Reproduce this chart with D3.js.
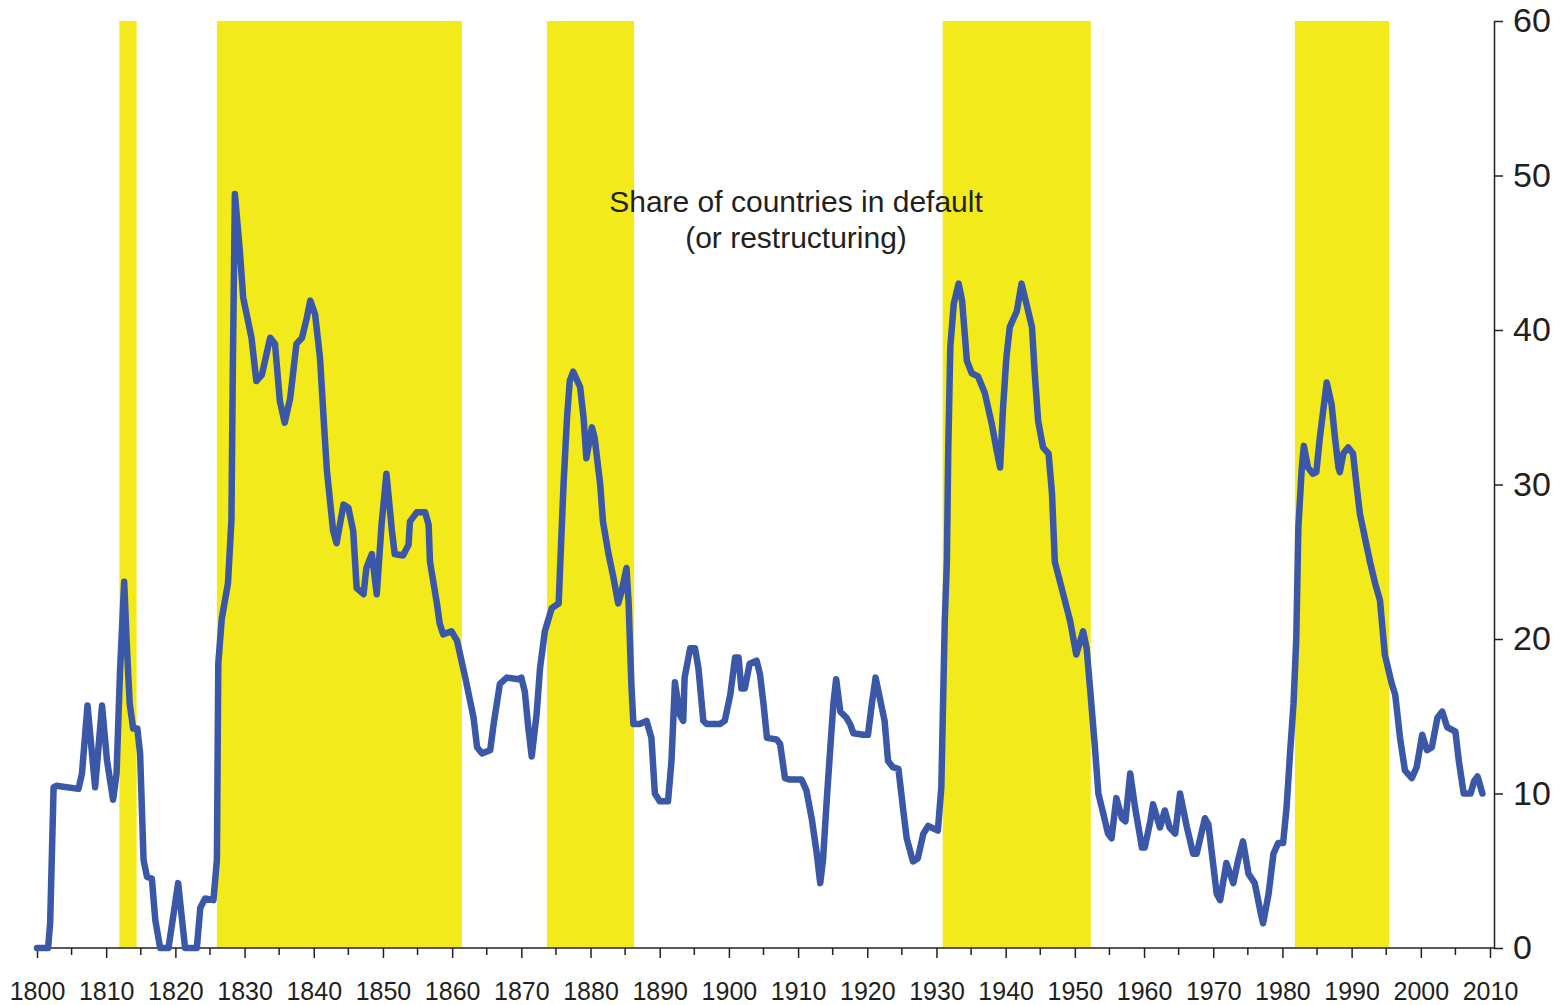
<!DOCTYPE html>
<html>
<head>
<meta charset="utf-8">
<script src="https://cdn.jsdelivr.net/npm/d3@7"></script>
<style>
  body { margin: 0; background: #fff; }
  svg text { font-family: "Liberation Sans", Arial, Helvetica, sans-serif; fill: #231f20; }
</style>
</head>
<body>
<div id="chart"></div>
<script>
// Years (some points sit between whole years)
const years = [
  1800.0, 1801.6, 1801.9, 1802.4, 1802.8, 1806.0, 1806.5, 1807.3, 1808.4, 1809.4,
  1810.1, 1811.0, 1811.5, 1812.0, 1812.6, 1813.0, 1813.4, 1813.9, 1814.5, 1814.9,
  1815.4, 1815.9, 1816.6, 1817.1, 1817.8, 1819.0, 1820.4, 1821.4, 1823.1, 1823.6,
  1824.3, 1825.5, 1826.0, 1826.2, 1826.7, 1827.6, 1828.1, 1828.3, 1828.6, 1829.3,
  1829.8, 1831.0, 1831.7, 1832.5, 1833.7, 1834.4, 1835.1, 1835.8, 1836.6, 1837.5,
  1838.3, 1839.0, 1839.5, 1840.2, 1840.9, 1841.6, 1841.9, 1842.8, 1843.3, 1844.3,
  1845.0, 1845.7, 1846.2, 1847.2, 1847.6, 1848.4, 1849.1, 1849.8, 1850.5, 1851.3,
  1851.7, 1852.9, 1853.7, 1853.9, 1854.9, 1856.1, 1856.6, 1856.8, 1857.8, 1858.2,
  1858.7, 1859.9, 1860.7, 1861.9, 1863.1, 1863.6, 1864.3, 1865.5, 1866.0, 1866.9,
  1867.9, 1869.6, 1870.0, 1870.5, 1871.0, 1871.5, 1872.2, 1872.7, 1873.4, 1874.4,
  1875.4, 1875.6, 1876.1, 1876.6, 1877.0, 1877.5, 1878.5, 1879.0, 1879.4, 1880.2,
  1880.6, 1881.4, 1881.8, 1882.6, 1883.3, 1884.0, 1884.5, 1885.2, 1885.5, 1885.9,
  1886.2, 1887.1, 1888.1, 1888.8, 1889.3, 1890.0, 1891.2, 1891.7, 1892.2, 1892.9,
  1893.4, 1893.6, 1894.4, 1895.1, 1895.6, 1896.3, 1896.8, 1898.7, 1899.4, 1900.2,
  1900.9, 1901.4, 1901.8, 1902.3, 1903.0, 1904.0, 1904.5, 1905.0, 1905.5, 1906.9,
  1907.4, 1908.1, 1908.8, 1910.5, 1911.2, 1912.0, 1912.7, 1913.2, 1913.6, 1914.1,
  1914.6, 1915.1, 1915.5, 1916.1, 1917.0, 1917.5, 1918.0, 1919.4, 1920.1, 1920.6,
  1921.2, 1921.8, 1922.5, 1923.0, 1923.7, 1924.5, 1925.2, 1925.7, 1926.6, 1927.3,
  1928.1, 1928.8, 1930.2, 1930.7, 1931.2, 1931.5, 1931.7, 1932.0, 1932.5, 1933.2,
  1933.7, 1934.4, 1935.1, 1936.0, 1937.0, 1938.0, 1938.7, 1939.2, 1939.6, 1940.1,
  1940.6, 1941.6, 1942.3, 1943.0, 1943.8, 1944.2, 1944.7, 1945.4, 1946.2, 1946.7,
  1947.1, 1947.8, 1949.3, 1950.2, 1951.2, 1951.7, 1952.2, 1952.9, 1953.4, 1954.1,
  1954.8, 1955.3, 1956.0, 1956.8, 1957.3, 1958.0, 1958.7, 1959.7, 1960.1, 1960.9,
  1961.3, 1962.3, 1963.0, 1963.7, 1964.5, 1965.2, 1966.2, 1967.1, 1967.6, 1968.8,
  1969.3, 1970.5, 1971.0, 1971.9, 1972.9, 1973.6, 1974.3, 1975.1, 1976.0, 1976.8,
  1977.2, 1978.0, 1978.7, 1979.4, 1980.1, 1980.6, 1981.1, 1981.6, 1982.0, 1982.3,
  1982.8, 1983.1, 1983.7, 1984.4, 1984.9, 1985.4, 1985.9, 1986.4, 1987.1, 1987.6,
  1988.1, 1988.3, 1988.8, 1989.5, 1990.2, 1990.7, 1991.2, 1991.9, 1992.7, 1993.4,
  1994.1, 1994.8, 1995.8, 1996.3, 1997.0, 1997.7, 1998.7, 1999.4, 2000.2, 2000.9,
  2001.6, 2002.4, 2003.1, 2003.8, 2005.0, 2005.5, 2006.2, 2007.2, 2007.7, 2008.2,
  2008.9
];

// Share of countries in default or restructuring, percent
const share = [
  0, 0, 1.6, 10.4, 10.5, 10.3, 11.3, 15.7, 10.4, 15.7,
  12.2, 9.6, 11.3, 17.9, 23.7, 19.4, 15.8, 14.2, 14.2, 12.6,
  5.7, 4.6, 4.5, 1.8, 0, 0, 4.2, 0, 0, 2.6,
  3.2, 3.1, 5.7, 18.4, 21.3, 23.6, 27.7, 37.4, 48.8, 45.2,
  42.1, 39.5, 36.7, 37.1, 39.5, 39.1, 35.4, 34.0, 35.6, 39.1,
  39.5, 40.8, 41.9, 41.0, 38.2, 33.0, 30.9, 27.0, 26.2, 28.7,
  28.5, 27.0, 23.3, 22.9, 24.6, 25.5, 22.9, 27.4, 30.7, 27.0,
  25.5, 25.4, 26.1, 27.6, 28.2, 28.2, 27.4, 25.0, 22.3, 21.0,
  20.3, 20.5, 19.9, 17.5, 14.9, 13.0, 12.6, 12.8, 14.5, 17.1,
  17.5, 17.4, 17.5, 16.6, 14.3, 12.4, 15.1, 18.1, 20.5, 22.0,
  22.3, 24.6, 30.0, 34.3, 36.7, 37.3, 36.3, 34.3, 31.7, 33.7,
  33.0, 30.0, 27.6, 25.5, 24.0, 22.3, 23.1, 24.6, 22.4, 17.1,
  14.5, 14.5, 14.7, 13.6, 10.0, 9.5, 9.5, 12.1, 17.2, 15.1,
  14.7, 17.5, 19.4, 19.4, 18.1, 14.7, 14.5, 14.5, 14.7, 16.4,
  18.8, 18.8, 16.8, 16.8, 18.4, 18.6, 17.7, 15.8, 13.6, 13.5,
  13.2, 11.0, 10.9, 10.9, 10.2, 8.3, 6.1, 4.2, 5.7, 9.3,
  12.6, 15.8, 17.4, 15.3, 14.9, 14.5, 13.9, 13.8, 13.8, 15.6,
  17.5, 16.2, 14.7, 12.1, 11.7, 11.6, 8.9, 7.1, 5.6, 5.8,
  7.4, 7.9, 7.6, 10.4, 21.2, 25.0, 32.2, 38.9, 41.7, 43.0,
  41.9, 38.0, 37.2, 37.0, 35.9, 33.9, 32.2, 31.1, 34.8, 38.2,
  40.2, 41.2, 43.0, 41.7, 40.2, 37.2, 34.1, 32.4, 32.0, 29.4,
  25.0, 23.8, 21.2, 19.0, 20.5, 19.4, 16.8, 13.0, 10.0, 8.7,
  7.4, 7.1, 9.7, 8.4, 8.2, 11.3, 9.1, 6.5, 6.5, 8.2,
  9.3, 7.8, 8.9, 7.8, 7.4, 10.0, 7.8, 6.1, 6.1, 8.4,
  8.0, 3.5, 3.1, 5.5, 4.2, 5.7, 6.9, 4.8, 4.2, 2.4,
  1.6, 3.5, 6.1, 6.8, 6.8, 9.1, 12.6, 15.8, 20.0, 27.2,
  31.1, 32.5, 31.1, 30.7, 30.8, 33.0, 34.8, 36.6, 35.2, 33.0,
  31.1, 30.8, 32.0, 32.4, 32.0, 30.0, 28.1, 26.6, 24.9, 23.6,
  22.5, 19.0, 17.1, 16.4, 13.6, 11.5, 11.0, 11.7, 13.8, 12.8,
  13.0, 14.9, 15.3, 14.3, 14.0, 12.1, 10.0, 10.0, 10.8, 11.1,
  10.0
];

// Shaded default waves (start / end year)
const bandStart = [1811.9, 1826.0, 1873.7, 1930.9, 1981.8];
const bandEnd = [1814.4, 1861.4, 1886.3, 1952.3, 1995.4];

// Axis ticks and labels
const xLabelYears = [1800, 1810, 1820, 1830, 1840, 1850, 1860, 1870, 1880, 1890, 1900,
  1910, 1920, 1930, 1940, 1950, 1960, 1970, 1980, 1990, 2000, 2010];
const xMinorYears = [1805, 1815, 1825, 1835, 1845, 1855, 1865, 1875, 1885, 1895, 1905,
  1915, 1925, 1935, 1945, 1955, 1965, 1975, 1985, 1995, 2005];
const yTicks = [0, 10, 20, 30, 40, 50, 60];
const titleLines = ['Share of countries in default', '(or restructuring)'];

let w = 1562,
h = 1005,
x0 = 37, x1 = 1490, // pixel span of 1800..2010
yBottom = 948, yTop = 21,
axisX = 1494, // where the right axis sits

x = d3.scaleLinear().domain([1800, 2010]).range([x0, x1]),
y = d3.scaleLinear().domain([0, 60]).range([yBottom, yTop]),

svg = d3.select('#chart').
append('svg').
attr('width', w).
attr('height', h);

// Yellow shaded periods
svg.append('g').
selectAll('rect').
data(bandStart.map((s, i) => [s, bandEnd[i]])).
enter().
append('rect').
attr('x', d => x(d[0])).
attr('y', yTop).
attr('width', d => x(d[1]) - x(d[0])).
attr('height', yBottom - yTop).
attr('fill', '#f2ea1a');

// Title text
svg.append('g').
selectAll('text').
data(titleLines).
enter().
append('text').
attr('x', 796).
attr('y', (d, i) => 212 + i * 36).
attr('text-anchor', 'middle').
style('font-size', '30px').
text(d => d);

// Bottom axis: labelled every 10 years, minor ticks in between
let xAxis = d3.axisBottom(x).
tickValues(xLabelYears).
tickSize(10).
tickSizeOuter(0).
tickPadding(24).
tickFormat(d3.format('d'));

let gx = svg.append('g').
attr('transform', 'translate(0,' + yBottom + ')').
call(xAxis);

gx.select('.domain').remove();
gx.append('line').
attr('x1', x0).
attr('x2', axisX).
attr('stroke', '#231f20').
attr('stroke-width', 1.5);
gx.selectAll('.tick line').attr('stroke', '#231f20').attr('stroke-width', 1.5);
gx.selectAll('.tick text').
style('font-size', '25px').
attr('fill', '#231f20').
attr('font-family', '"Liberation Sans", Arial, sans-serif');

gx.selectAll('.minor').
data(xMinorYears).
enter().
append('line').
attr('class', 'minor').
attr('x1', d => x(d)).
attr('x2', d => x(d)).
attr('y1', 0).
attr('y2', 7).
attr('stroke', '#231f20').
attr('stroke-width', 1.5);

// Right axis
let yAxis = d3.axisRight(y).
tickValues(yTicks).
tickSize(9).
tickSizeOuter(0).
tickPadding(10);

let gy = svg.append('g').
attr('transform', 'translate(' + axisX + ',0)').
call(yAxis);

gy.select('.domain').attr('stroke', '#231f20').attr('stroke-width', 1.5);
gy.selectAll('.tick line').attr('stroke', '#231f20').attr('stroke-width', 1.5);
gy.selectAll('.tick text').
style('font-size', '34px').
attr('fill', '#231f20').
attr('font-family', '"Liberation Sans", Arial, sans-serif');

// The default share line
let line = d3.line().
x((d, i) => x(years[i])).
y(d => y(d));

svg.append('path').
datum(share).
attr('d', line).
attr('fill', 'none').
attr('stroke', '#3a57a8').
attr('stroke-width', 6.5).
attr('stroke-linejoin', 'round').
attr('stroke-linecap', 'round');
</script>
</body>
</html>
